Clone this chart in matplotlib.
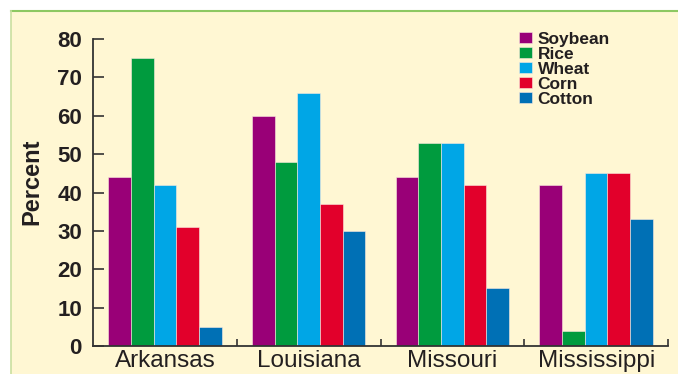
import numpy as np
import matplotlib
matplotlib.use("Agg")
import matplotlib.pyplot as plt
from matplotlib.patches import Rectangle
from matplotlib.lines import Line2D
from matplotlib import font_manager

states = ["Arkansas", "Louisiana", "Missouri", "Mississippi"]
crops = ["Soybean", "Rice", "Wheat", "Corn", "Cotton"]
soybean = [44, 60, 44, 42]
rice = [75, 48, 53, 4]
wheat = [42, 66, 53, 45]
corn = [31, 37, 42, 45]
cotton = [5, 30, 15, 33]
colors = ["#990077", "#009B3E", "#00A6E6", "#E2002B", "#0070B5"]

names = {f.name for f in font_manager.fontManager.ttflist}
narrow = "Liberation Sans Narrow" if "Liberation Sans Narrow" in names else "Liberation Sans"

panel_bg = "#FFF7D3"
ink = "#231F20"

fig = plt.figure(figsize=(6.78, 3.74), dpi=100)
fig.patch.set_facecolor("white")

# yellow panel with a green rule along top and left, kept behind the axes
fig.patches.append(Rectangle((11 / 678, 0), 1, 1 - 11 / 374, transform=fig.transFigure,
                             facecolor=panel_bg, edgecolor="none", zorder=-2))
fig.lines.append(Line2D([11 / 678, 1], [1 - 11 / 374] * 2, transform=fig.transFigure,
                        color="#8DC862", lw=1.5, zorder=-1))
fig.lines.append(Line2D([11 / 678] * 2, [0, 1 - 11 / 374], transform=fig.transFigure,
                        color="#C9DFA0", lw=1.2, zorder=-1))

ax = fig.add_axes([93 / 678, 1 - 346 / 374, (668 - 93) / 678, (346 - 39) / 374])
ax.set_facecolor("none")

x = np.arange(len(states))
w = 0.158
series = [soybean, rice, wheat, corn, cotton]
for i, (vals, c, lab) in enumerate(zip(series, colors, crops)):
    ax.bar(x + (i - 2) * w, vals, w, color=c, label=lab,
           edgecolor="#FBE9E0", linewidth=0.4, zorder=2)

ax.set_xlim(-0.5, 3.5)
ax.set_ylim(0, 80)
ax.set_yticks(range(0, 81, 10))
ax.set_xticks(x)
ax.set_xticklabels(states, fontsize=17.5, color=ink, family="Liberation Sans")
ax.set_xticks(np.arange(0.5, 4, 1), minor=True)
ax.tick_params(axis="x", which="major", length=0, pad=3)
ax.tick_params(axis="x", which="minor", direction="in", length=5, width=1.2, color="#333333")
ax.tick_params(axis="y", direction="in", length=8, width=1.2, color="#333333", pad=8)
for t in ax.get_yticklabels():
    t.set_family(narrow)
    t.set_fontsize(16)
    t.set_fontweight("bold")
    t.set_color(ink)

for s in ["top", "right"]:
    ax.spines[s].set_visible(False)
for s in ["left", "bottom"]:
    ax.spines[s].set_linewidth(1.3)
    ax.spines[s].set_color("#333333")

ax.set_ylabel("Percent", family=narrow, fontsize=17, fontweight="bold", color=ink)
ax.yaxis.set_label_coords(-0.087, 0.534)

leg = ax.legend(loc="upper left", bbox_to_anchor=(0.725, 1.052), frameon=False,
                prop={"family": "Liberation Sans", "weight": "bold", "size": 12.5},
                handlelength=0.75, handleheight=0.65, handletextpad=0.35,
                labelspacing=0.0, borderpad=0)
for t in leg.get_texts():
    t.set_color(ink)

fig.savefig("out.png", dpi=100)
